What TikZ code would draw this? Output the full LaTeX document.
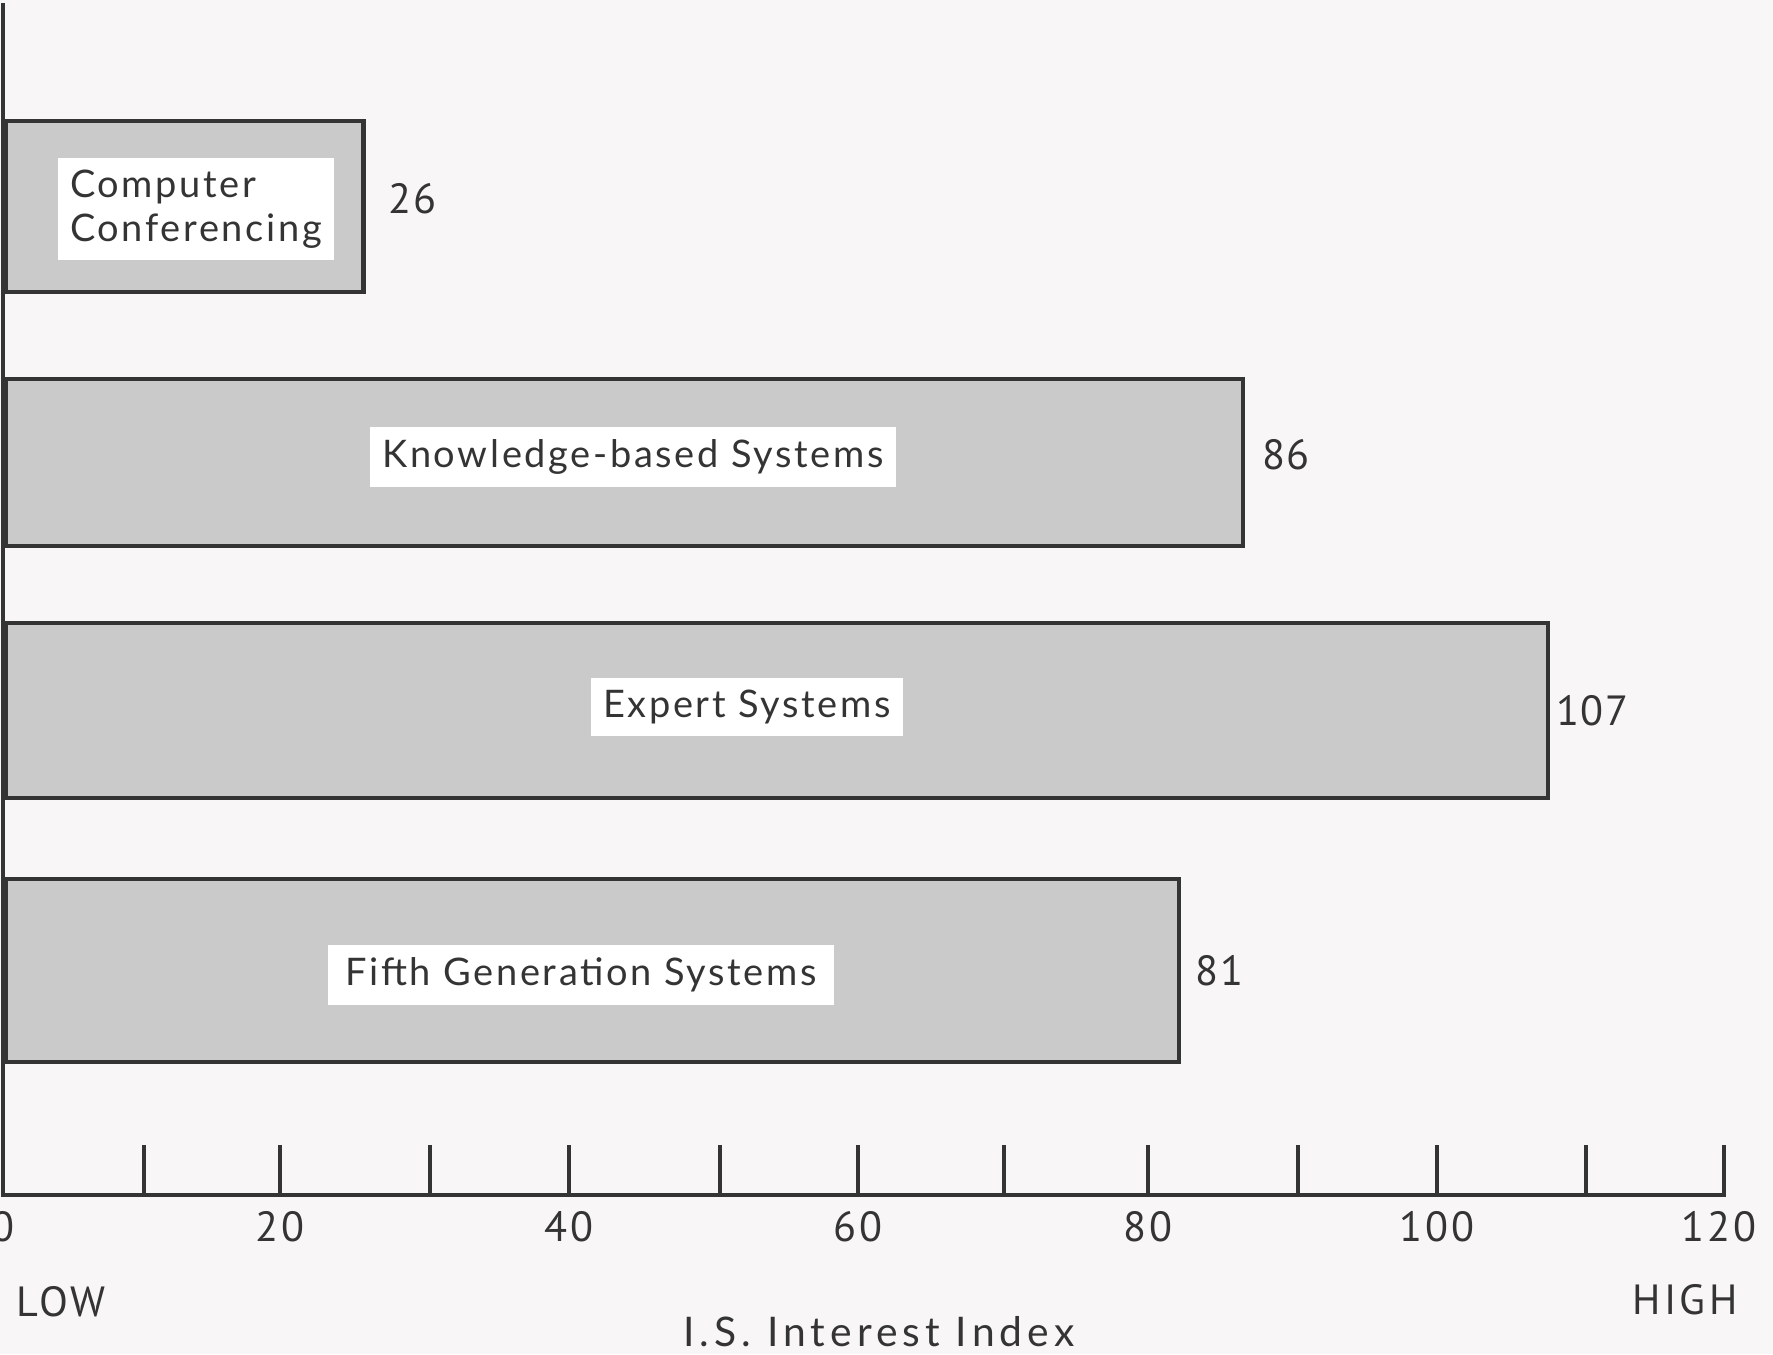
\documentclass[tikz,border=0pt]{standalone}
\usepackage{fontspec}
\setmainfont{Lato}
\newfontfamily\numfont{PT Sans}
\usetikzlibrary{positioning}
\definecolor{paper}{RGB}{248,246,246}
\definecolor{ink}{RGB}{52,52,52}
\definecolor{shade}{RGB}{202,202,202}
\tikzset{
	node distance=2mm,
	axis/.style={draw=ink, line width=1.3pt},
	bar/.style={draw=ink, line width=1.3pt, fill=shade, anchor=west, inner sep=0pt},
	barlabel/.style={fill=white, text=ink, inner sep=3.5pt,
		font=\fontsize{10.8}{12.4}\selectfont\addfontfeature{LetterSpace=7}},
	value/.style={text=ink, inner sep=0pt, anchor=west, font=\numfont\fontsize{12}{14}\selectfont\addfontfeature{LetterSpace=4}},
	ticklabel/.style={text=ink, inner sep=0pt, font=\numfont\fontsize{12}{14}\selectfont\addfontfeature{LetterSpace=8}},
	axistitle/.style={text=ink, inner sep=0pt, font=\fontsize{11.6}{14}\selectfont\addfontfeature{LetterSpace=12.5}}}

\begin{document}
\begin{tikzpicture}[x=0.01cm, y=-0.01cm]
	\fill[paper] (0,0) rectangle (1773,1354);
	\useasboundingbox (0,0) rectangle (1773,1354);

	% axes
	\coordinate (top) at (3,3);
	\coordinate (origin) at (3,1195);
	\coordinate (far) at (1724,1195);
	\draw[axis] (top) -- (origin) -- (far) -- ++(0,-50);
	\foreach \x in {144,280,430,569,720,858,1004,1148,1298,1437,1586}
		\draw[axis] (\x,1195) -- ++(0,-50);
	\foreach \x/\v in {3/0,280/20,569/40,858/60,1148/80,1437/100,1719/120}
		\node[ticklabel] (t\v) at (\x,1227) {\v};

	% bars
	\node[bar, minimum width=3.58cm, minimum height=1.71cm] (cc) at (3,206.5) {};
	\node[bar, minimum width=12.37cm, minimum height=1.67cm] (kb) at (3,462.5) {};
	\node[bar, minimum width=15.42cm, minimum height=1.75cm] (es) at (3,710.5) {};
	\node[bar, minimum width=11.73cm, minimum height=1.83cm] (fg) at (3,970.5) {};

	\node[barlabel, align=left] (cclabel) at (196,209) {Computer\\Conferencing};
	\node[barlabel] (kblabel) at (633,457) {Knowledge-based Systems};
	\node[barlabel] (eslabel) at (747,707) {Expert Systems};
	\node[barlabel, inner xsep=5pt] (fglabel) at (581,975) {Fifth Generation Systems};

	\node[value, right=2.2mm of cc.east, yshift=0.8mm] (ccval) {26};
	\node[value, right=1.6mm of kb.east, yshift=0.8mm] (kbval) {86};
	\node[value, right=0.5mm of es.east] (esval) {107};
	\node[value, right=1.4mm of fg.east] (fgval) {81};

	\node[ticklabel, anchor=west] (low) at (16,1302) {LOW};
	\node[ticklabel] (high) at (1685,1300) {HIGH};
	\node[axistitle] (title) at (879,1332) {I.S. Interest Index};
\end{tikzpicture}
\end{document}
